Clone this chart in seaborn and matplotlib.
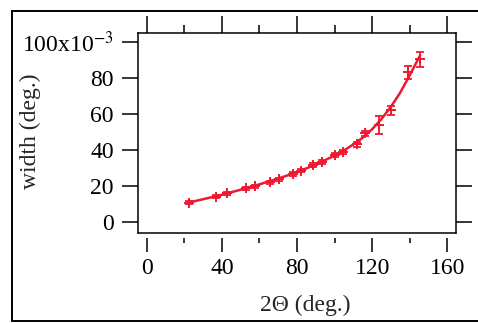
import numpy as np
import pandas as pd
import matplotlib
matplotlib.use("Agg")
import matplotlib.pyplot as plt
from matplotlib.lines import Line2D
from matplotlib.ticker import MultipleLocator
import seaborn as sns

sns.set_theme(style="ticks")
plt.rcParams["font.family"] = ["Liberation Serif", "DejaVu Serif"]
plt.rcParams["mathtext.fontset"] = "stix"

RED = "#f0182e"

# measured peak widths (x1e-3 deg) vs 2-theta
two_theta = [22.7, 36.9, 42.9, 52.8, 57.6, 65.6, 70.6, 77.7, 82.0, 88.4,
             93.1, 100.2, 104.3, 111.8, 116.2, 123.8, 129.9, 139.2, 145.4]
width = [10.6, 13.9, 15.8, 18.6, 19.8, 21.9, 23.6, 26.5, 28.3, 31.5,
         33.3, 37.1, 38.9, 43.0, 49.1, 53.7, 62.1, 83.3, 90.3]
width_err = [0.8, 0.8, 0.8, 0.8, 0.8, 0.8, 0.8, 0.9, 0.9, 1.0,
             1.0, 1.0, 1.0, 1.2, 1.5, 5.0, 2.5, 3.6, 4.4]

# fitted curve
fit_x = [22, 30, 40, 50, 60, 70, 80, 90, 100, 105, 110, 115, 120, 125, 130, 135, 140, 145.5]
fit_y = [10.6, 12.5, 15.0, 17.8, 20.8, 24.0, 27.6, 31.8, 36.8, 39.7, 43.0, 46.8,
         51.5, 57.2, 64.0, 72.0, 81.5, 92.6]

x_ticks = [0, 40, 80, 120, 160]
y_ticks = [0, 20, 40, 60, 80, 100]
y_ticklabels = ["0", "20", "40", "60", "80", "100x10$^{-3}$"]

df = pd.DataFrame({"two_theta": two_theta, "width": width, "err": width_err})
fit = pd.DataFrame({"x": fit_x, "y": fit_y})

fig = plt.figure(figsize=(4.78, 3.23), dpi=100)
ax = fig.add_axes([138 / 478, 1 - 232.5 / 323, (456 - 138) / 478, (232.5 - 32.5) / 323])

sns.lineplot(data=fit, x="x", y="y", ax=ax, color=RED, lw=1.8)
ax.errorbar(df["two_theta"], df["width"], yerr=df["err"], fmt="none",
            ecolor=RED, elinewidth=1.3, capsize=2.8, capthick=1.3)
sns.scatterplot(data=df, x="two_theta", y="width", ax=ax, marker="+",
                color=RED, s=45, linewidth=1.4)

ax.set_xlim(-4.6, 164.6)
ax.set_ylim(-6, 105.3)
ax.set_xticks(x_ticks)
ax.xaxis.set_minor_locator(MultipleLocator(20))
ax.set_yticks(y_ticks)
ax.set_yticklabels(y_ticklabels)

# Igor-like frame: bottom axis detached from the box
ax.spines["bottom"].set_position(("outward", 3.6))
ax.spines["bottom"].set_visible(False)
ax.plot([0, 1], [0, 0], transform=ax.transAxes, color="black", lw=1.1, clip_on=False, zorder=5)
for s in ["left", "right", "top"]:
    ax.spines[s].set_linewidth(1.1)
    ax.spines[s].set_color("black")

ax.tick_params(axis="x", which="major", direction="out", length=10, width=1.1,
               pad=5, labelsize=17, colors="black", top=False)
ax.tick_params(axis="x", which="minor", direction="out", length=3.6, width=1.1,
               top=False, colors="black")
ax.tick_params(axis="y", which="major", direction="out", length=11.5, width=1.1,
               pad=6, labelsize=17, colors="black", right=True)

top = ax.twiny()
top.set_xlim(ax.get_xlim())
top.set_xticks(x_ticks)
top.xaxis.set_minor_locator(MultipleLocator(20))
top.tick_params(axis="x", which="major", direction="out", length=12.2, width=1.1,
                labeltop=False, colors="black")
top.tick_params(axis="x", which="minor", direction="out", length=5.8, width=1.1,
                colors="black")
for s in top.spines.values():
    s.set_visible(False)

ax.set_xlabel("2\u0398 (deg.)", fontsize=17)
ax.xaxis.set_label_coords((305 - 138) / 318, (232.5 - 295) / 200)
ax.set_ylabel("width (deg.)", fontsize=17)
ax.yaxis.set_label_coords((41 - 138) / 318, (232.5 - 131) / 200)

# outer border of the scanned figure
for xs, ys in [([12, 12], [11, 320.5]), ([12, 478], [11, 11]), ([12, 478], [320.5, 320.5])]:
    fig.add_artist(Line2D([v / 478 for v in xs], [1 - v / 323 for v in ys],
                          color="black", lw=1.4))

fig.savefig("out.png", dpi=100)
